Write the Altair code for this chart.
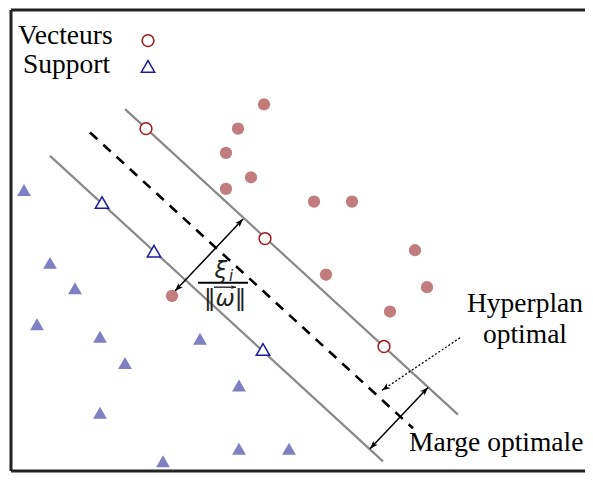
import math
import altair as alt
import pandas as pd

# ---------------- data (reference pixel coordinates) ----------------
# class "+" : filled circles
circ_x = [264, 238, 226, 251, 226, 314, 352, 415, 326, 427, 390, 172]
circ_y = [100, 125, 150, 175, 187, 200, 200, 250, 275, 288, 313, 297]
# support vectors of class "+": open circles
sv_circ_x = [146, 265, 384]
sv_circ_y = [125, 238, 349]
# class "-" : filled triangles
tri_x = [24, 50, 75, 37, 100, 125, 200, 239, 100, 163, 239, 289]
tri_y = [188, 263, 289, 326, 339, 366, 341, 389, 417, 467, 454, 454]
# support vectors of class "-": open triangles
sv_tri_x = [102, 154, 263]
sv_tri_y = [201, 251, 352]

# legend markers
leg_circ_x, leg_circ_y = [148], [34.5]
leg_tri_x, leg_tri_y = [148], [61]

# margin boundaries (solid grey) and optimal hyperplane (dashed)
bound_x1 = [125, 50]
bound_y1 = [105, 153]
bound_x2 = [458, 383]
bound_y2 = [419, 467]
hyper_x1, hyper_y1, hyper_x2, hyper_y2 = [90], [129], [413], [433]

# double arrows (xi / margin) and dotted pointer
darrow_x1 = [175, 370]
darrow_y1 = [292, 454]
darrow_x2 = [243, 428]
darrow_y2 = [218, 391]
ptr_x1, ptr_y1, ptr_x2, ptr_y2 = [460], [340], [382], [394]

# vector arrow over omega
vec_x1, vec_y1, vec_x2, vec_y2 = [214], [288], [236], [288]

# frame
frame_x1 = [11, 11, 11]
frame_y1 = [3, 3, 477]
frame_x2 = [11, 585, 585]
frame_y2 = [477, 3, 477]

# texts
left_texts = ["Vecteurs", "Support", "Marge optimale"]
left_x = [18, 23, 409]
left_y = [38, 68, 456]
center_texts = ["Hyperplan", "optimal"]
center_x = [525, 525]
center_y = [313, 345]

# ---------------- chart ----------------
W, H = 577, 465
XDOM = [8, 585]
YDOM = [1, 479]
KY = H / (YDOM[1] - YDOM[0])

xs = alt.Scale(domain=XDOM)
ys = alt.Scale(domain=YDOM, reverse=True)


def X(f="x"):
    return alt.X(f"{f}:Q", scale=xs, axis=None)


def Y(f="y"):
    return alt.Y(f"{f}:Q", scale=ys, axis=None)


def segs(x1, y1, x2, y2):
    return pd.DataFrame({"x": x1, "y": y1, "x2": x2, "y2": y2})


def rule_layer(df, **kw):
    return alt.Chart(df).mark_rule(**kw).encode(
        x=X(), y=Y(), x2=alt.X2("x2:Q"), y2=alt.Y2("y2:Q")
    )


def heading(xa, ya, xb, yb):
    # angle (clockwise from up) of direction a->b in screen space
    dx = xb - xa
    dy = (yb - ya) * KY
    return math.degrees(math.atan2(dx, -dy)) % 360


heads = []
for a, b, c, d in zip(darrow_x1, darrow_y1, darrow_x2, darrow_y2):
    heads.append({"x": c, "y": d, "angle": heading(a, b, c, d)})
    heads.append({"x": a, "y": b, "angle": heading(c, d, a, b)})
for a, b, c, d in zip(ptr_x1, ptr_y1, ptr_x2, ptr_y2):
    heads.append({"x": c, "y": d, "angle": heading(a, b, c, d)})
heads_df = pd.DataFrame(heads)

vec_heads_df = pd.DataFrame([
    {"x": c, "y": d, "angle": heading(a, b, c, d)}
    for a, b, c, d in zip(vec_x1, vec_y1, vec_x2, vec_y2)
])

ARROW = "M0,0 L0.55,1.5 L0,1.1 L-0.55,1.5 Z"

frame = rule_layer(segs(frame_x1, frame_y1, frame_x2, frame_y2),
                   color="#222222", strokeWidth=3)
bounds = rule_layer(segs(bound_x1, bound_y1, bound_x2, bound_y2),
                    color="#888888", strokeWidth=2.2)
hyper = rule_layer(segs(hyper_x1, hyper_y1, hyper_x2, hyper_y2),
                   color="black", strokeWidth=2.6, strokeDash=[10, 8])
darrows = rule_layer(segs(darrow_x1, darrow_y1, darrow_x2, darrow_y2),
                     color="black", strokeWidth=1.5)
pointer = rule_layer(segs(ptr_x1, ptr_y1, ptr_x2, ptr_y2),
                     color="black", strokeWidth=1.3, strokeDash=[2, 2])
arrowheads = alt.Chart(heads_df).mark_point(
    shape=ARROW, filled=True, color="black", size=120, opacity=1
).encode(x=X(), y=Y(), angle=alt.Angle("angle:Q", scale=None))
vec_line = rule_layer(segs(vec_x1, vec_y1, vec_x2, vec_y2),
                      color="#222222", strokeWidth=1.4)
vec_head = alt.Chart(vec_heads_df).mark_point(
    shape=ARROW, filled=True, color="#222222", size=45, opacity=1
).encode(x=X(), y=Y(), angle=alt.Angle("angle:Q", scale=None))


def pts(xv, yv):
    return pd.DataFrame({"x": xv, "y": yv})


filled_c = alt.Chart(pts(circ_x, circ_y)).mark_point(
    shape="circle", filled=True, color="#c17c7e", size=150, opacity=1
).encode(x=X(), y=Y())
open_c = alt.Chart(pts(sv_circ_x + leg_circ_x, sv_circ_y + leg_circ_y)).mark_point(
    shape="circle", fill="white", fillOpacity=1, stroke="#a31818",
    strokeWidth=1.5, size=140, opacity=1
).encode(x=X(), y=Y())
filled_t = alt.Chart(pts(tri_x, tri_y)).mark_point(
    shape="triangle-up", filled=True, color="#7f80c2", size=190, opacity=1
).encode(x=X(), y=Y())
open_t = alt.Chart(pts(sv_tri_x + leg_tri_x, sv_tri_y + leg_tri_y)).mark_point(
    shape="triangle-up", fill="white", fillOpacity=1, stroke="#1c1c9e",
    strokeWidth=1.5, size=180, opacity=1
).encode(x=X(), y=Y())

txt_left = alt.Chart(pd.DataFrame({"x": left_x, "y": left_y, "t": left_texts})).mark_text(
    font="Liberation Serif", fontSize=27.5, align="left", baseline="alphabetic", color="black"
).encode(x=X(), y=Y(), text="t:N")
txt_center = alt.Chart(pd.DataFrame({"x": center_x, "y": center_y, "t": center_texts})).mark_text(
    font="Liberation Serif", fontSize=27.5, align="center", baseline="alphabetic", color="black"
).encode(x=X(), y=Y(), text="t:N")

# fraction  xi_i / ||w||
math_big = ["ξ", "‖ω‖"]
math_big_x = [221, 225]
math_big_y = [279, 307]
math_small = ["i"]
math_small_x = [229]
math_small_y = [282]
frac_bar = rule_layer(segs([198], [283.5], [248], [283.5]), color="black", strokeWidth=2)
mbig = alt.Chart(pd.DataFrame({"x": math_big_x, "y": math_big_y, "t": math_big})).mark_text(
    font="DejaVu Sans", fontSize=23, fontStyle="italic", align="center",
    baseline="alphabetic", color="#222222"
).encode(x=X(), y=Y(), text="t:N")
msmall = alt.Chart(pd.DataFrame({"x": math_small_x, "y": math_small_y, "t": math_small})).mark_text(
    font="DejaVu Sans", fontSize=15, fontStyle="italic", align="left",
    baseline="alphabetic", color="#222222"
).encode(x=X(), y=Y(), text="t:N")

chart = alt.layer(
    frame, bounds, hyper, darrows, pointer, arrowheads,
    filled_c, filled_t, open_c, open_t,
    txt_left, txt_center, frac_bar, mbig, msmall, vec_line, vec_head,
).properties(
    width=W, height=H, padding=0, autosize=alt.AutoSizeParams(type="none")
).configure_view(stroke=None)

chart.save("out.html", embed_options={"renderer": "svg", "actions": False})
